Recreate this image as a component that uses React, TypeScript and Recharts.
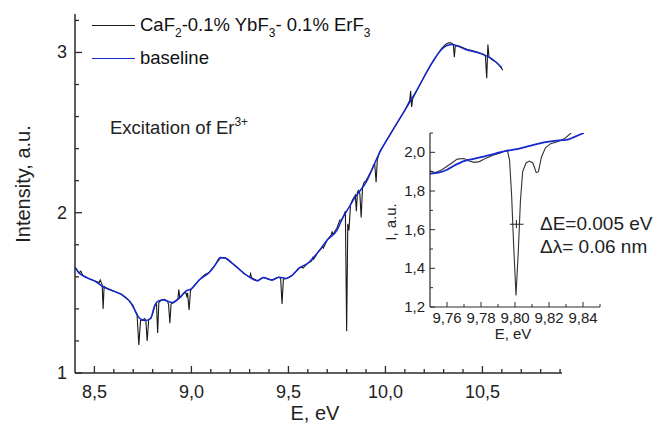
import { Legend, Line, LineChart, XAxis, YAxis } from 'recharts';

const FONT = '"Liberation Sans", Arial, sans-serif';
const AXIS = '#2a2a2a';
const BLACK = '#1a1a1a';
const BLUE = '#1428d2';

// main spectrum [E, eV ; intensity]
const spectrum: [number, number][] = [
  [8.40, 1.66], [8.42, 1.625], [8.43, 1.635], [8.44, 1.61], [8.47, 1.59], [8.50, 1.575],
  [8.525, 1.565], [8.53, 1.58], [8.54, 1.55], [8.545, 1.40], [8.55, 1.54], [8.57, 1.525],
  [8.60, 1.51], [8.64, 1.49], [8.68, 1.45], [8.70, 1.42], [8.71, 1.385], [8.72, 1.36],
  [8.729, 1.175], [8.738, 1.33], [8.75, 1.33], [8.758, 1.34], [8.765, 1.33], [8.772, 1.20],
  [8.78, 1.335], [8.79, 1.34], [8.80, 1.37], [8.812, 1.42], [8.82, 1.43], [8.826, 1.25],
  [8.832, 1.44], [8.845, 1.455], [8.86, 1.46], [8.875, 1.45], [8.882, 1.43], [8.889, 1.31],
  [8.895, 1.43], [8.91, 1.44], [8.93, 1.46], [8.935, 1.52], [8.94, 1.47], [8.955, 1.49],
  [8.965, 1.50], [8.97, 1.505], [8.976, 1.48], [8.98, 1.50], [8.988, 1.394], [8.995, 1.51],
  [9.00, 1.525], [9.04, 1.58], [9.06, 1.605], [9.07, 1.615], [9.09, 1.625], [9.12, 1.67],
  [9.15, 1.72], [9.175, 1.717], [9.21, 1.685], [9.24, 1.654], [9.27, 1.62], [9.30, 1.598],
  [9.305, 1.62], [9.31, 1.595], [9.34, 1.575], [9.37, 1.596], [9.415, 1.58], [9.45, 1.598],
  [9.46, 1.59], [9.467, 1.43], [9.474, 1.585], [9.49, 1.59], [9.52, 1.61], [9.555, 1.654],
  [9.57, 1.665], [9.575, 1.655], [9.60, 1.685], [9.62, 1.70], [9.625, 1.72], [9.63, 1.71],
  [9.655, 1.758], [9.67, 1.775], [9.675, 1.79], [9.68, 1.78], [9.70, 1.83], [9.72, 1.86],
  [9.725, 1.88], [9.73, 1.865], [9.75, 1.905], [9.765, 1.955], [9.775, 1.955], [9.785, 1.98],
  [9.7935, 2.01], [9.80, 1.26], [9.806, 1.93], [9.812, 1.89], [9.82, 2.05], [9.83, 2.08],
  [9.84, 2.10], [9.845, 2.11], [9.85, 2.01], [9.856, 2.13], [9.862, 2.14], [9.868, 2.12],
  [9.875, 1.97], [9.882, 2.16], [9.89, 2.19], [9.90, 2.20], [9.93, 2.27], [9.94, 2.30],
  [9.945, 2.30], [9.952, 2.19], [9.958, 2.33], [9.97, 2.38], [10.00, 2.44], [10.04, 2.52],
  [10.07, 2.58], [10.10, 2.64], [10.125, 2.70], [10.13, 2.76], [10.135, 2.66], [10.14, 2.71],
  [10.16, 2.76], [10.20, 2.85], [10.24, 2.935], [10.27, 2.99], [10.29, 3.025], [10.31, 3.05],
  [10.325, 3.06], [10.337, 3.06], [10.345, 3.055], [10.35, 3.05], [10.355, 2.97], [10.36, 3.04],
  [10.38, 3.04], [10.40, 3.03], [10.42, 3.02], [10.45, 3.01], [10.48, 3.00], [10.50, 2.99],
  [10.515, 2.98], [10.522, 2.84], [10.528, 3.05], [10.534, 2.97], [10.55, 2.955], [10.57, 2.94],
  [10.59, 2.915], [10.605, 2.89],
];

const baseline: [number, number][] = [
  [8.40, 1.66], [8.42, 1.625], [8.46, 1.595], [8.50, 1.575], [8.55, 1.535], [8.59, 1.515],
  [8.64, 1.49], [8.68, 1.45], [8.71, 1.39], [8.73, 1.345], [8.76, 1.327], [8.79, 1.34],
  [8.81, 1.42], [8.83, 1.45], [8.855, 1.456], [8.90, 1.44], [8.94, 1.47], [8.97, 1.51],
  [9.00, 1.525], [9.04, 1.58], [9.09, 1.625], [9.12, 1.67], [9.15, 1.72], [9.175, 1.717],
  [9.21, 1.685], [9.24, 1.654], [9.30, 1.598], [9.34, 1.575], [9.37, 1.596], [9.415, 1.58],
  [9.45, 1.598], [9.49, 1.59], [9.52, 1.61], [9.555, 1.654], [9.60, 1.685], [9.655, 1.758],
  [9.70, 1.83], [9.75, 1.89], [9.78, 1.97], [9.80, 2.01], [9.84, 2.09], [9.90, 2.19],
  [9.97, 2.375], [10.02, 2.48], [10.07, 2.58], [10.16, 2.76], [10.24, 2.935], [10.29, 3.02],
  [10.32, 3.045], [10.345, 3.05], [10.41, 3.02], [10.50, 2.99], [10.56, 2.95], [10.60, 2.905],
];

// inset: zoom around the 9.80 eV line
const insetSpectrum: [number, number][] = [
  [9.750, 1.905], [9.753, 1.895], [9.757, 1.91], [9.762, 1.94], [9.766, 1.965], [9.770, 1.968],
  [9.773, 1.955], [9.776, 1.948], [9.779, 1.952], [9.783, 1.97], [9.787, 1.985], [9.791, 1.995],
  [9.7955, 2.012], [9.7968, 1.96], [9.798, 1.78], [9.7992, 1.52], [9.8006, 1.26], [9.802, 1.50],
  [9.8032, 1.75], [9.8045, 1.90], [9.8065, 1.945], [9.8085, 1.955], [9.8105, 1.945], [9.8125, 1.895],
  [9.8138, 1.90], [9.8155, 1.975], [9.818, 2.025], [9.821, 2.045], [9.825, 2.055], [9.829, 2.07],
  [9.833, 2.10],
];

const insetBaseline: [number, number][] = [
  [9.750, 1.89], [9.755, 1.895], [9.760, 1.91], [9.765, 1.935], [9.770, 1.955], [9.775, 1.965],
  [9.780, 1.975], [9.785, 1.985], [9.791, 2.0], [9.800, 2.015], [9.807, 2.03], [9.814, 2.045],
  [9.820, 2.055], [9.826, 2.062], [9.830, 2.064], [9.835, 2.08], [9.8405, 2.10],
];

const fwhmBar: [number, number][] = [[9.797, 1.628], [9.805, 1.628]];
const fwhmTick: [number, number][] = [[9.8008, 1.608], [9.8008, 1.65]];

const xTicks = [8.5, 8.6, 8.7, 8.8, 8.9, 9.0, 9.1, 9.2, 9.3, 9.4, 9.5, 9.6, 9.7, 9.8, 9.9, 10.0, 10.1, 10.2, 10.3, 10.4, 10.5, 10.6, 10.7, 10.8, 10.9];
const yTicks = [1, 1.2, 1.4, 1.6, 1.8, 2, 2.2, 2.4, 2.6, 2.8, 3, 3.2];
const insetXTicks = [9.76, 9.77, 9.78, 9.79, 9.80, 9.81, 9.82, 9.83, 9.84, 9.85];
const insetYTicks = [1.2, 1.3, 1.4, 1.5, 1.6, 1.7, 1.8, 1.9, 2.0, 2.1];

const toRows = (pts: [number, number][]) => pts.map(([e, i]) => ({ e, i }));
const comma = (v: number, d: number) => v.toFixed(d).replace('.', ',');
const isStep = (v: number, step: number) => Math.abs(v / step - Math.round(v / step)) < 1e-6;

function MainXTick({ x, y, payload }: any) {
  const major = isStep(payload.value, 0.5);
  return (
    <g>
      <line x1={x} y1={y} x2={x} y2={y - (major ? 7 : 4)} stroke={AXIS} strokeWidth={1.3} />
      {major && (
        <text x={x} y={y + 25} textAnchor="middle" fontSize={18} fill="#222" fontFamily={FONT}>
          {comma(payload.value, 1)}
        </text>
      )}
    </g>
  );
}

function MainYTick({ x, y, payload }: any) {
  const major = isStep(payload.value, 1);
  return (
    <g>
      <line x1={x} y1={y} x2={x + (major ? 7 : 4)} y2={y} stroke={AXIS} strokeWidth={1.3} />
      {major && (
        <text x={x - 8} y={y + 6} textAnchor="end" fontSize={18} fill="#222" fontFamily={FONT}>
          {payload.value}
        </text>
      )}
    </g>
  );
}

function InsetXTick({ x, y, payload }: any) {
  const major = isStep(payload.value, 0.02);
  return (
    <g>
      <line x1={x} y1={y} x2={x} y2={y - (major ? 5 : 3)} stroke={AXIS} strokeWidth={1} />
      {major && (
        <text x={x} y={y + 16} textAnchor="middle" fontSize={15} fill="#222" fontFamily={FONT}>
          {comma(payload.value, 2)}
        </text>
      )}
    </g>
  );
}

function InsetYTick({ x, y, payload }: any) {
  const major = isStep(payload.value, 0.2);
  return (
    <g>
      <line x1={x} y1={y} x2={x + (major ? 5 : 3)} y2={y} stroke={AXIS} strokeWidth={1} />
      {major && (
        <text x={x - 5} y={y + 5} textAnchor="end" fontSize={15} fill="#222" fontFamily={FONT}>
          {comma(payload.value, 1)}
        </text>
      )}
    </g>
  );
}

const withSubs = (s: string) =>
  s.split(/(?<=F)(\d)/).map((part, k) =>
    k % 2 === 1 ? (
      <sub key={k} style={{ fontSize: 12, verticalAlign: '-6px', lineHeight: 0 }}>{part}</sub>
    ) : (
      <span key={k}>{part}</span>
    )
  );

const renderLegend = ({ payload }: any) => (
  <div style={{ fontFamily: FONT, fontSize: 18.5, color: '#111' }}>
    {(payload || []).map((p: any, k: number) => (
      <div key={k} style={{ display: 'flex', alignItems: 'center', height: 22, marginBottom: k === 0 ? 11 : 0 }}>
        <span style={{ width: 43, height: 0, borderTop: `1.3px solid ${p.color}`, marginRight: 5 }} />
        <span style={{ lineHeight: '22px', whiteSpace: 'nowrap' }}>{withSubs(p.value)}</span>
      </div>
    ))}
  </div>
);

export default function App() {
  return (
    <div style={{ position: 'absolute', left: 0, top: 0, width: 654, height: 433, background: '#fff', fontFamily: FONT }}>
      <LineChart width={654} height={433} margin={{ top: 14, right: 92, bottom: 59, left: 74 }}>
        <XAxis
          type="number"
          dataKey="e"
          domain={[8.4, 10.91]}
          ticks={xTicks}
          interval={0}
          height={1}
          tickSize={0}
          tickMargin={0}
          tickLine={false}
          tick={<MainXTick />}
          axisLine={{ stroke: AXIS, strokeWidth: 1.5 }}
          allowDataOverflow
        />
        <YAxis
          type="number"
          dataKey="i"
          domain={[1, 3.24]}
          ticks={yTicks}
          interval={0}
          width={1}
          tickSize={0}
          tickMargin={0}
          tickLine={false}
          tick={<MainYTick />}
          axisLine={{ stroke: AXIS, strokeWidth: 1.5 }}
          allowDataOverflow
        />
        <Legend
          layout="vertical"
          align="center"
          verticalAlign="middle"
          content={renderLegend}
          wrapperStyle={{ top: 14, left: 92, width: 400 }}
        />
        <Line
          data={toRows(spectrum)}
          dataKey="i"
          name="CaF2-0.1% YbF3- 0.1% ErF3"
          type="linear"
          stroke={BLACK}
          strokeWidth={1.1}
          dot={false}
          isAnimationActive={false}
        />
        <Line
          data={toRows(baseline)}
          dataKey="i"
          name="baseline"
          type="monotone"
          stroke={BLUE}
          strokeWidth={1.5}
          dot={false}
          isAnimationActive={false}
        />
        <text x={23} y={184} transform="rotate(-90 23 184)" textAnchor="middle" dominantBaseline="central" fontSize={20} fill="#222" fontFamily={FONT}>
          Intensity, a.u.
        </text>
        <text x={315} y={420} textAnchor="middle" fontSize={20} fill="#222" fontFamily={FONT}>
          E, eV
        </text>
        <text x={110} y={134} fontSize={18.5} fill="#222" fontFamily={FONT}>
          Excitation of Er<tspan dy={-8} fontSize={12}>3+</tspan>
        </text>
      </LineChart>

      <div style={{ position: 'absolute', left: 380, top: 120 }}>
        <LineChart width={274} height={240} margin={{ top: 13, right: 54, bottom: 52, left: 49 }}>
          <XAxis
            type="number"
            dataKey="e"
            domain={[9.75, 9.85]}
            ticks={insetXTicks}
            interval={0}
            height={1}
            tickSize={0}
            tickMargin={0}
            tickLine={false}
            tick={<InsetXTick />}
            axisLine={{ stroke: AXIS, strokeWidth: 1.2 }}
            allowDataOverflow
          />
          <YAxis
            type="number"
            dataKey="i"
            domain={[1.2, 2.1]}
            ticks={insetYTicks}
            interval={0}
            width={1}
            tickSize={0}
            tickMargin={0}
            tickLine={false}
            tick={<InsetYTick />}
            axisLine={{ stroke: AXIS, strokeWidth: 1.2 }}
            allowDataOverflow
          />
          <Line data={toRows(insetSpectrum)} dataKey="i" type="linear" stroke="#333" strokeWidth={1.1} dot={false} isAnimationActive={false} />
          <Line data={toRows(insetBaseline)} dataKey="i" type="monotone" stroke={BLUE} strokeWidth={1.8} dot={false} isAnimationActive={false} />
          <Line data={toRows(fwhmBar)} dataKey="i" type="linear" stroke="#222" strokeWidth={1} dot={false} isAnimationActive={false} />
          <Line data={toRows(fwhmTick)} dataKey="i" type="linear" stroke="#222" strokeWidth={1} dot={false} isAnimationActive={false} />
          <text x={10} y={102} transform="rotate(-90 10 102)" textAnchor="middle" dominantBaseline="central" fontSize={15} fill="#222" fontFamily={FONT}>
            I, a.u.
          </text>
          <text x={133} y={219} textAnchor="middle" fontSize={15} fill="#222" fontFamily={FONT}>
            E, eV
          </text>
          <text x={160} y={110} fontSize={19} fill="#222" fontFamily={FONT}>
            ΔE=0.005 eV
          </text>
          <text x={160} y={133} fontSize={19} fill="#222" fontFamily={FONT}>
            Δλ= 0.06 nm
          </text>
        </LineChart>
      </div>
    </div>
  );
}
